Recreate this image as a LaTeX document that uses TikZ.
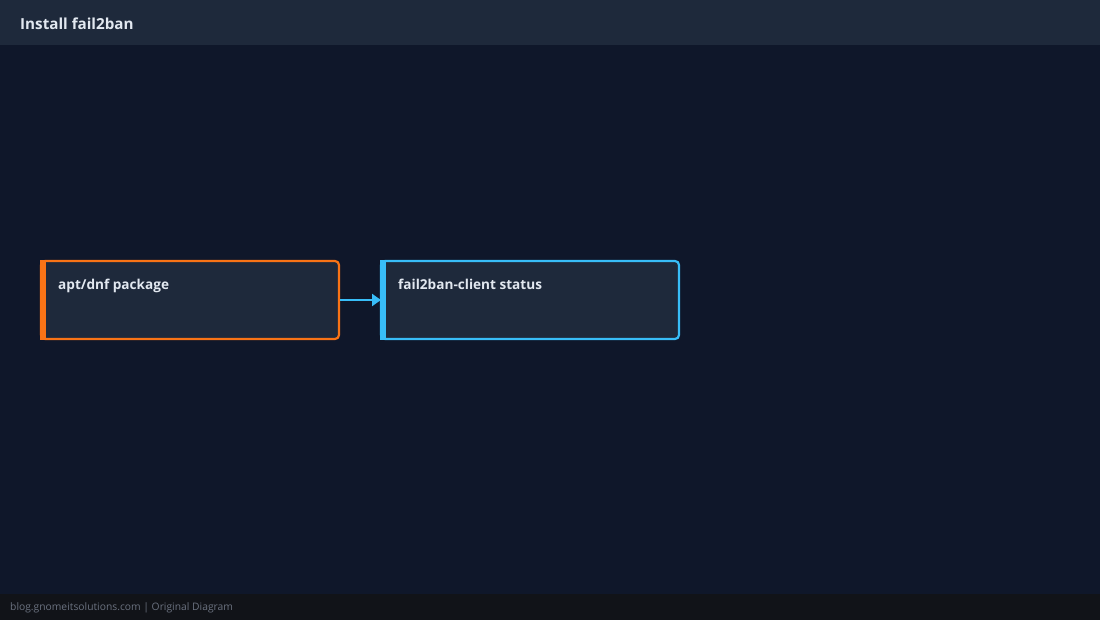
\documentclass[tikz,border=0pt]{standalone}
\usepackage{fontspec}
\setmainfont{Open Sans}
\usetikzlibrary{arrows.meta}
\definecolor{bg}{HTML}{0F172A}
\definecolor{hdr}{HTML}{1E293B}
\definecolor{ftr}{HTML}{111318}
\definecolor{boxfill}{HTML}{1E293B}
\definecolor{txt}{HTML}{E2E8F0}
\definecolor{ftxt}{HTML}{6B7280}
\definecolor{orng}{HTML}{F97316}
\definecolor{sky}{HTML}{38BDF8}
\tikzset{
  stepbox/.style={draw=#1, line width=2.2pt, fill=boxfill, rounded corners=4pt},
  lbl/.style={anchor=base west, text=txt, font=\fontsize{13.6}{15}\selectfont\bfseries, inner sep=0pt},
  conn/.style={draw=sky, line width=2.2pt, -{Triangle[length=9pt,width=12pt]}}
}
\begin{document}
\begin{tikzpicture}[x=1pt,y=-1pt]
\useasboundingbox (0,0) rectangle (1100,620);
\fill[bg] (0,0) rectangle (1100,620);
\fill[hdr] (0,0) rectangle (1100,45);
\fill[ftr] (0,594) rectangle (1100,620);
\node[anchor=base west, text=txt, font=\fontsize{15.2}{17}\selectfont\bfseries, inner sep=0pt] (title) at (20,29.5) {Install fail2ban};
\node[anchor=base west, text=ftxt, font=\fontsize{10.3}{12}\selectfont, inner sep=0pt] (foot) at (10,610) {blog.gnomeitsolutions.com | Original Diagram};
% box 1
\path[stepbox=orng] (41,261) rectangle (339,339);
\fill[orng] (40,260) rectangle (46,340);
\coordinate (a) at (340,300);
\node[lbl] (t1) at (58,290) {apt/dnf package};
% box 2
\path[stepbox=sky] (381,261) rectangle (679,339);
\fill[sky] (380,260) rectangle (386,340);
\coordinate (b) at (381,300);
\node[lbl] (t2) at (398,290) {fail2ban-client status};
\draw[conn] (a) -- (b);
\end{tikzpicture}
\end{document}
